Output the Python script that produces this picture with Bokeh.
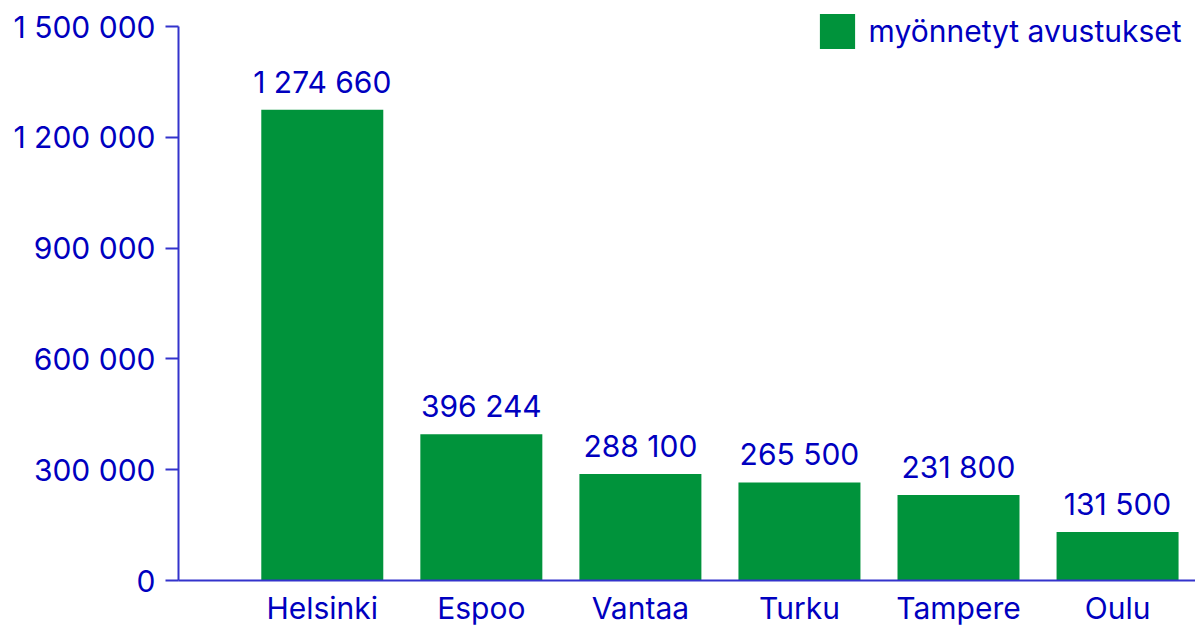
from bokeh.plotting import figure
from bokeh.models import (ColumnDataSource, Range1d, FixedTicker, LabelSet,
                          Legend, LegendItem)
from bokeh.core.properties import value
from bokeh.embed import file_html
from bokeh.resources import INLINE

cities = ["Helsinki", "Espoo", "Vantaa", "Turku", "Tampere", "Oulu"]
grants = [1274660, 396244, 288100, 265500, 231800, 131500]
y_ticks = [0, 300000, 600000, 900000, 1200000, 1500000]
series_name = "myönnetyt avustukset"

def fmt(v):
    return f"{v:,}".replace(",", " ")

FONT = "Inter"
FS = "30px"
TXT = "#0000bf"
AX = "#3333cc"
GREEN = "#00933b"

YMAX = y_ticks[-1]
FRAME_H = 580
TOP_GAP = 26
y_end = YMAX * FRAME_H / (FRAME_H - TOP_GAP)

src = ColumnDataSource(dict(
    x=list(range(len(cities))),
    y=grants,
    lab=[fmt(v) for v in grants],
))

p = figure(width=1195, height=628, output_backend="svg", toolbar_location=None,
           x_range=Range1d(-0.904, 5.49), y_range=Range1d(0, y_end),
           min_border_left=178, min_border_right=0, min_border_top=0,
           min_border_bottom=48)
p.outline_line_color = None
p.xgrid.grid_line_color = None
p.ygrid.grid_line_color = None
p.background_fill_color = "white"
p.border_fill_color = "white"

r = p.vbar(x="x", top="y", width=0.767, bottom=0, source=src,
           fill_color=GREEN, line_color=None)

labels = LabelSet(x="x", y="y", text="lab", source=src, y_offset=17,
                  text_align="center", text_baseline="alphabetic",
                  text_font=value(FONT), text_font_size=FS, text_color=TXT)
p.add_layout(labels)

# x axis
xa = p.xaxis[0]
xa.ticker = FixedTicker(ticks=list(range(len(cities))))
xa.major_label_overrides = {i: c for i, c in enumerate(cities)}
xa.major_tick_line_color = None
xa.minor_tick_line_color = None
xa.axis_line_color = AX
xa.axis_line_width = 2
xa.major_label_text_font = FONT
xa.major_label_text_font_size = FS
xa.major_label_text_color = TXT
xa.major_label_standoff = 3

# y axis
ya = p.yaxis[0]
ya.ticker = FixedTicker(ticks=y_ticks)
ya.bounds = (0, YMAX)
ya.major_label_overrides = {t: fmt(t) for t in y_ticks}
ya.major_tick_in = 0
ya.major_tick_out = 13
ya.major_tick_line_color = AX
ya.major_tick_line_width = 2
ya.minor_tick_line_color = None
ya.axis_line_color = AX
ya.axis_line_width = 2
ya.major_label_text_font = FONT
ya.major_label_text_font_size = FS
ya.major_label_text_color = TXT
ya.major_label_standoff = 10

legend = Legend(items=[LegendItem(label=series_name, renderers=[r])],
                location=(636.6, 527.4), glyph_width=44, glyph_height=44,
                label_text_font=FONT, label_text_font_size=FS,
                label_text_color=TXT, label_standoff=10, padding=0, margin=0,
                spacing=0, border_line_color=None, background_fill_alpha=0)
p.add_layout(legend)

open("out.html", "w").write(file_html(p, INLINE))
